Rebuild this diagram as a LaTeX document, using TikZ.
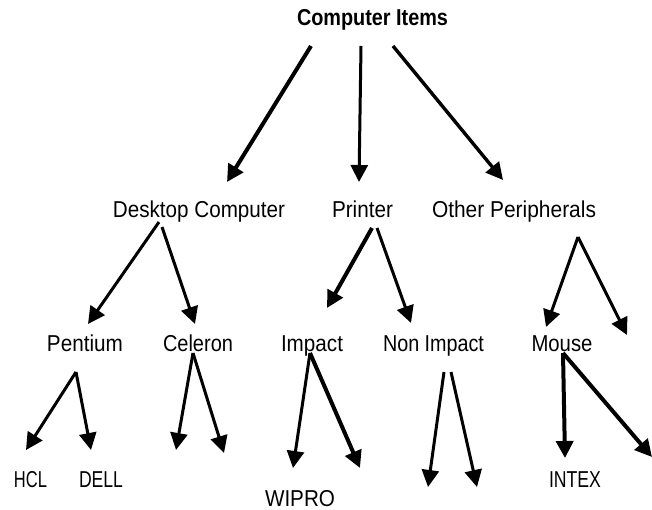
\documentclass[tikz,border=0pt]{standalone}
\usepackage{fontspec}
\setmainfont{Liberation Sans}
\usetikzlibrary{arrows.meta}
\newcommand\lbl[2]{\resizebox{#1pt}{\height}{#2}}
\begin{document}
\begin{tikzpicture}[x=1pt,y=-1pt,
  txt/.style={inner sep=0pt,anchor=base,font=\fontsize{23}{27}\selectfont},
  arr/.style={line width=3pt,-{Triangle[length=17pt,width=17pt]}},
  tarr/.style={arr,line width=4pt}]
\useasboundingbox (0,0) rectangle (652,510);
% nodes
\node[txt] (root) at (372.5,26) {\lbl{151}{\bfseries Computer Items}};
\node[txt] (desk) at (199,218) {\lbl{172}{Desktop Computer}};
\node[txt] (prn) at (362.5,218) {\lbl{61}{Printer}};
\node[txt] (oth) at (514,218) {\lbl{164}{Other Peripherals}};
\node[txt] (pent) at (85,351) {\lbl{76}{Pentium}};
\node[txt] (cel) at (198,351) {\lbl{70}{Celeron}};
\node[txt] (imp) at (312,351) {\lbl{62}{Impact}};
\node[txt] (nimp) at (433.5,351) {\lbl{101}{Non Impact}};
\node[txt] (mouse) at (562,351) {\lbl{61}{Mouse}};
\node[txt] (hcl) at (30.5,487) {\lbl{33}{HCL}};
\node[txt] (dell) at (101,487) {\lbl{44}{DELL}};
\node[txt] (wipro) at (300,506) {\lbl{70}{WIPRO}};
\node[txt] (intex) at (575,487) {\lbl{52}{INTEX}};
% connector end points
\coordinate (r1) at (311,46);  \coordinate (desk-t) at (227,182);
\coordinate (r2) at (361,46);  \coordinate (prn-t) at (359,182);
\coordinate (r3) at (393,46);  \coordinate (oth-t) at (503,180);
\coordinate (d1) at (159,222); \coordinate (pent-t) at (88,324);
\coordinate (d2) at (162,227); \coordinate (cel-t) at (195,324);
\coordinate (p1) at (372,228); \coordinate (imp-t) at (327,308);
\coordinate (p2) at (377,228); \coordinate (nimp-t) at (411,323);
\coordinate (o1) at (578,237); \coordinate (mouse-t) at (546,327);
\coordinate (oth-r) at (627,335);
\coordinate (pe1) at (76,372); \coordinate (hcl-t) at (26,450);
\coordinate (dell-t) at (91,450);
\coordinate (c1) at (193,353); \coordinate (cel-a) at (176,450);
\coordinate (cel-b) at (224,453);
\coordinate (i1) at (310,353); \coordinate (wipro-t) at (293,468);
\coordinate (imp-b) at (360,468);
\coordinate (n1) at (444,372); \coordinate (nimp-a) at (428,487);
\coordinate (n2) at (451,372); \coordinate (nimp-b) at (477,487);
\coordinate (m1) at (563,353); \coordinate (intex-t) at (565,458);
\coordinate (mouse-r) at (652,457);
% connectors
\draw[tarr] (r1) -- (desk-t);
\draw[arr] (r2) -- (prn-t);
\draw[arr,line width=3.4pt] (r3) -- (oth-t);
\draw[arr] (d1) -- (pent-t);
\draw[arr] (d2) -- (cel-t);
\draw[tarr] (p1) -- (imp-t);
\draw[arr] (p2) -- (nimp-t);
\draw[arr] (o1) -- (mouse-t);
\draw[arr] (o1) -- (oth-r);
\draw[arr] (pe1) -- (hcl-t);
\draw[arr] (pe1) -- (dell-t);
\draw[arr] (c1) -- (cel-a);
\draw[arr] (c1) -- (cel-b);
\draw[arr] (i1) -- (wipro-t);
\draw[tarr] (i1) -- (imp-b);
\draw[arr] (n1) -- (nimp-a);
\draw[arr] (n2) -- (nimp-b);
\draw[tarr] (m1) -- (intex-t);
\draw[tarr] (m1) -- (mouse-r);
\end{tikzpicture}
\end{document}
